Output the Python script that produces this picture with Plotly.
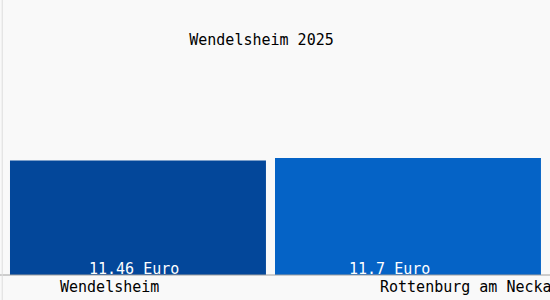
import plotly.graph_objects as go

categories = ["Wendelsheim", "Rottenburg am Neckar"]
values = [11.46, 11.7]
value_labels = ["11.46 Euro", "11.7 Euro"]
title_text = "Wendelsheim 2025"

bar_colors = ["#03479a", "#0563c6"]
bar_widths = [0.948, 0.985]
value_shift = [-3.5, -18]
cat_shift = [-80, -30]

FONT = "DejaVu Sans Mono"

fig = go.Figure()
fig.add_trace(go.Bar(
    x=categories, y=values,
    marker=dict(color=bar_colors, line=dict(width=0)),
    width=bar_widths,
    hoverinfo="skip",
))

annotations = []
for c, lab, s in zip(categories, value_labels, value_shift):
    annotations.append(dict(
        x=c, y=0, xref="x", yref="y", text=lab, showarrow=False,
        xanchor="center", yanchor="bottom", xshift=s, yshift=-5,
        font=dict(family=FONT, size=15, color="white"),
    ))
for c, s in zip(categories, cat_shift):
    annotations.append(dict(
        x=c, y=-0.045, xref="x", yref="paper", text=c, showarrow=False,
        xanchor="left", yanchor="middle", xshift=s,
        font=dict(family=FONT, size=15, color="black"),
    ))

fig.update_layout(
    width=550, height=300,
    margin=dict(l=0, r=0, t=0, b=25),
    paper_bgcolor="#f9f9f9", plot_bgcolor="#f9f9f9",
    showlegend=False,
    title=dict(text=title_text, x=261.5 / 550, xanchor="center",
               y=1 - 40 / 300, yanchor="middle", yref="container",
               font=dict(family=FONT, size=15, color="black")),
    xaxis=dict(range=[-0.511, 1.526], showticklabels=False, showgrid=False,
               zeroline=False, showline=False, ticks=""),
    yaxis=dict(range=[0, 27.5], showticklabels=False, showgrid=False,
               zeroline=False, showline=False, ticks=""),
    annotations=annotations,
    shapes=[
        dict(type="line", xref="paper", yref="paper", x0=0, x1=1, y0=0, y1=0,
             line=dict(color="#a0a0a0", width=1)),
        dict(type="line", xref="paper", yref="paper", x0=0.004, x1=0.004,
             y0=-0.1, y1=1, line=dict(color="#dddddd", width=1)),
    ],
)

fig.write_html("out.html")
